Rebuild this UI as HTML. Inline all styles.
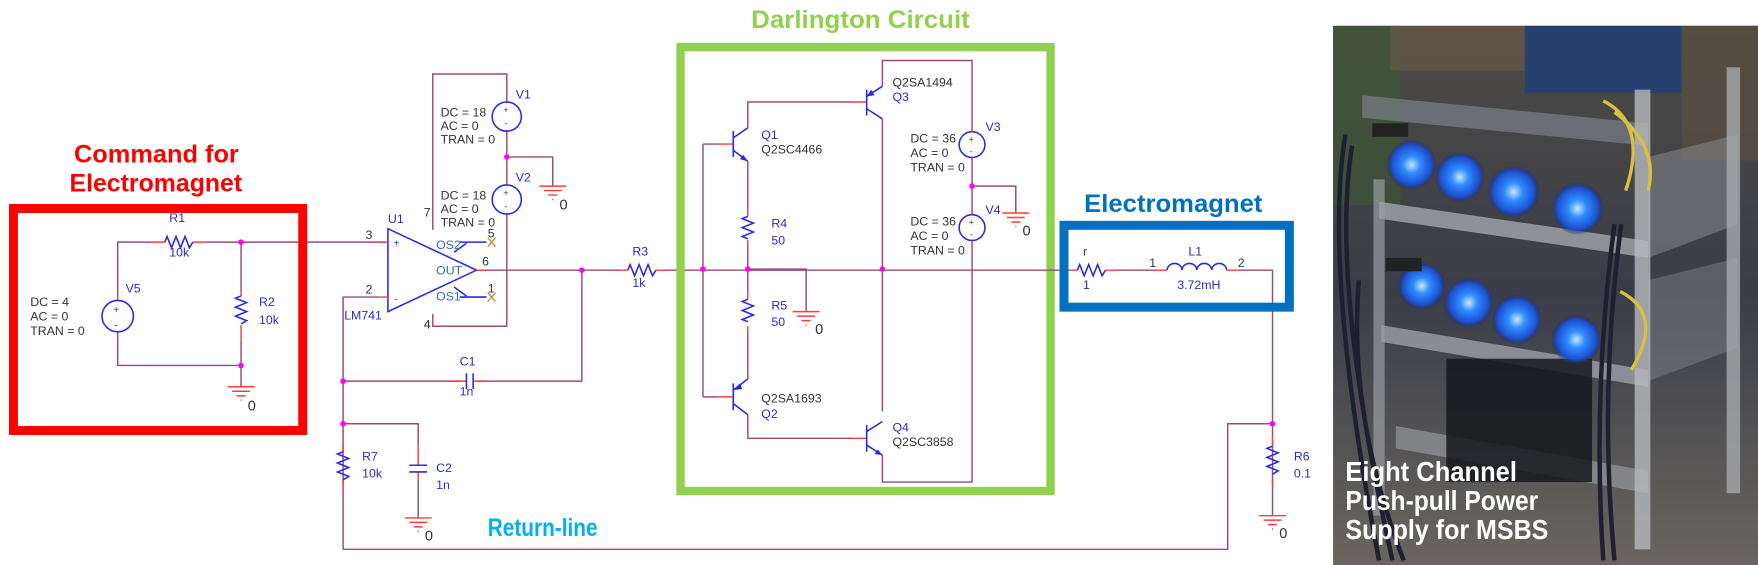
<!DOCTYPE html>
<html><head><meta charset="utf-8"><style>
html,body{margin:0;padding:0;background:#fff;width:1758px;height:565px;overflow:hidden}
svg{display:block}
.w{stroke:#9c4a78;stroke-width:1.3;fill:none}
.r{stroke:#ff3b3b;stroke-width:1.3;fill:none}
.b{stroke:#2a2ae6;stroke-width:1.4;fill:none}
.n{fill:#ff00ff}
text{font-family:"Liberation Sans",sans-serif}
.t{font-size:11px;fill:#333}
.tb{font-size:11px;fill:#2a2acc}
.h{font-weight:bold}
</style></head><body>
<svg width="1758" height="565" viewBox="0 0 1568 504" preserveAspectRatio="none" xmlns="http://www.w3.org/2000/svg">
<defs>
<radialGradient id="fan" cx="50%" cy="50%" r="50%">
<stop offset="0" stop-color="#c8e8ff"/><stop offset="0.35" stop-color="#2f8cff"/><stop offset="0.8" stop-color="#1d4fd0"/><stop offset="1" stop-color="#1a2e70" stop-opacity="0.2"/>
</radialGradient>
<linearGradient id="bg" x1="0" y1="0" x2="0" y2="1">
<stop offset="0" stop-color="#4d4a45"/><stop offset="0.5" stop-color="#3a3d48"/><stop offset="1" stop-color="#6a655e"/>
</linearGradient>
</defs>

<!-- ===== Titles ===== -->
<text x="66" y="145" font-size="22" class="h" fill="#ff0000" textLength="147" lengthAdjust="spacingAndGlyphs">Command for</text>
<text x="62" y="171" font-size="22" class="h" fill="#ff0000" textLength="154" lengthAdjust="spacingAndGlyphs">Electromagnet</text>
<text x="670" y="25" font-size="22" class="h" fill="#92d050" textLength="195" lengthAdjust="spacingAndGlyphs">Darlington Circuit</text>
<text x="967" y="189" font-size="22" class="h" fill="#0070c0" textLength="159" lengthAdjust="spacingAndGlyphs">Electromagnet</text>
<text x="435" y="478" font-size="22" class="h" fill="#00b0f0" textLength="98" lengthAdjust="spacingAndGlyphs">Return-line</text>

<!-- ===== Left source block ===== -->
<path class="w" d="M105 264V216H135M184 216H343M215 216V260M215 304V326H105V300"/>
<path class="r" d="M135 216H147M172 216H184M215 260V264M215 290V304M105 264V268M105 296V300"/>
<path class="b" d="M147 216l2 -5l4 10l4 -10l4 10l4 -10l4 10l3 -5"/>
<path class="b" d="M215 264l-5 2l10 4l-10 4l10 4l-10 4l10 4l-5 3"/>
<circle class="b" cx="105" cy="282" r="14"/>
<text x="101" y="279" font-size="9" fill="#2a2acc">+</text><text x="102" y="293" font-size="9" fill="#2a2acc">-</text>
<circle class="n" cx="215" cy="216" r="2.5"/><circle class="n" cx="215" cy="326" r="2.5"/>
<path class="w" d="M215 326V345"/>
<path class="r" d="M203 345H227M207 349H223M211 353H219M214.5 357H215.5"/>
<text x="221" y="366" font-size="13" fill="#333">0</text>
<text x="151" y="198" class="tb">R1</text><text x="151" y="229" class="tb">10k</text>
<text x="112" y="261" class="tb">V5</text>
<text x="27" y="273" class="t">DC = 4</text><text x="27" y="286" class="t">AC = 0</text><text x="27" y="299" class="t">TRAN = 0</text>
<text x="231" y="273" class="tb">R2</text><text x="231" y="289" class="tb">10k</text>
<rect x="12" y="186" width="258" height="198" fill="none" stroke="#ff0000" stroke-width="8"/>

<!-- ===== Op-amp ===== -->
<polygon class="b" points="346,204 346,278 425,241"/>
<text x="351" y="220" font-size="9" fill="#2a2acc">+</text><text x="352" y="270" font-size="9" fill="#2a2acc">-</text>
<path class="w" d="M306 490V265H338M386 205V66H452V92M452 116V166M452 140H493V166M452 190V291H386V280M425 241H519V340H427M411 340H305"/>
<path class="r" d="M338 216H346M338 265H346M425 241H432"/>
<circle class="b" cx="452" cy="104" r="13"/><circle class="b" cx="452" cy="178" r="13"/>
<text x="449" y="101" font-size="8" fill="#2a2acc">+</text><text x="450" y="113" font-size="8" fill="#2a2acc">-</text>
<text x="449" y="175" font-size="8" fill="#2a2acc">+</text><text x="450" y="187" font-size="8" fill="#2a2acc">-</text>
<circle class="n" cx="452" cy="140" r="2.5"/>
<path class="r" d="M481 166H505M485 170H501M489 174H497M492.5 178H493.5"/>
<text x="499" y="187" font-size="13" fill="#333">0</text>
<path class="b" d="M410 216H434M410 265H434M405 225L416 217M405 256L416 264"/>
<path stroke="#c9904e" stroke-width="1.3" d="M435 212l7 8M442 212l-7 8M435 261l7 8M442 261l-7 8"/>
<text x="346" y="199" class="tb">U1</text><text x="307" y="285" class="tb">LM741</text>
<text x="326" y="213" class="t">3</text><text x="326" y="262" class="t">2</text>
<text x="389" y="222" font-size="11" fill="#3a6ab0">OS2</text>
<text x="389" y="245" font-size="11" fill="#3a6ab0">OUT</text>
<text x="389" y="268" font-size="11" fill="#3a6ab0">OS1</text>
<text x="430" y="237" class="t">6</text><text x="435" y="212" class="t">5</text><text x="435" y="261" class="t">1</text>
<text x="378" y="193" class="t">7</text><text x="378" y="293" class="t">4</text>
<text x="460" y="88" class="tb">V1</text><text x="460" y="162" class="tb">V2</text>
<text x="393" y="104" class="t">DC = 18</text><text x="393" y="116" class="t">AC = 0</text><text x="393" y="128" class="t">TRAN = 0</text>
<text x="393" y="178" class="t">DC = 18</text><text x="393" y="190" class="t">AC = 0</text><text x="393" y="202" class="t">TRAN = 0</text>
<circle class="n" cx="519" cy="241" r="2.5"/>

<!-- C1 -->
<path class="r" d="M405 340H416M422 340H433"/>
<path class="b" d="M416 333V347M422 333V347"/>
<text x="410" y="326" class="tb">C1</text><text x="410" y="353" class="tb">1n</text>
<circle class="n" cx="306" cy="340" r="2.5"/>
<!-- R7 / C2 -->
<path class="w" d="M306 378H373V398M373 428V462M306 490H1095V378H1135"/>
<path class="r" d="M306 395V403M306 428V434M373 398V415M373 421V428"/>
<path class="b" d="M306 403l-5 2l10 4l-10 4l10 4l-10 4l10 4l-5 3M365 415H381M365 421H381"/>
<circle class="n" cx="306" cy="378" r="2.5"/>
<path class="r" d="M361 462H385M365 466H381M369 470H377M372.5 474H373.5"/>
<text x="379" y="482" font-size="13" fill="#333">0</text>
<text x="323" y="411" class="tb">R7</text><text x="323" y="426" class="tb">10k</text>
<text x="389" y="421" class="tb">C2</text><text x="389" y="436" class="tb">1n</text>

<!-- R3 -->
<path class="w" d="M519 241H553M590 241H787"/>
<path class="r" d="M553 241H560M585 241H594"/>
<path class="b" d="M560 241l2 -5l4 10l4 -10l4 10l4 -10l4 10l3 -5"/>
<text x="564" y="228" class="tb">R3</text><text x="564" y="256" class="tb">1k</text>

<!-- ===== Darlington ===== -->
<path class="w" d="M627 128.5V354M627 128.5H640M627 354H640M667 114V91H760M667 144V188M667 219V262M667 296V338M667 370V391H760M667 240H719V278M787 77V54H867V118M787 106V367M787 406V430H867V215M867 140V192M867 166H906V190"/>
<path class="r" d="M640 128.5H654M640 354H654M760 91H773M760 391H773M667 188V193M667 214V219M667 262V267M667 291V296"/>
<path class="b" d="M654 117V140M654 123L667 114M654 134L667 144M654 342V366M654 348L667 338M654 360L667 370M773 80V103M773 86L787 77M773 97L787 106M773 379V403M773 385L787 376M773 397L787 406"/>
<path class="b" d="M667 193l-5 2l10 4l-10 4l10 4l-10 4l5 2M667 267l-5 2l10 4l-10 4l10 4l-10 4l5 2"/>
<path fill="#2a2ae6" d="M667 144l-7 -2l3 -4zM654 348l6 -6l2 5zM773 86l4 -6l3 5zM787 406l-7 -1l3 -4z"/>
<circle class="n" cx="627" cy="240" r="2.5"/><circle class="n" cx="667" cy="240" r="2.5"/><circle class="n" cx="787" cy="240" r="2.5"/><circle class="n" cx="867" cy="166" r="2.5"/>
<path class="r" d="M707 278H731M711 282H727M715 286H723M718.5 290H719.5"/>
<text x="727" y="298" font-size="13" fill="#333">0</text>
<path class="r" d="M894 190H918M898 194H914M902 198H910M905.5 202H906.5"/>
<text x="912" y="210" font-size="13" fill="#333">0</text>
<circle class="b" cx="867" cy="129" r="11.5"/><circle class="b" cx="867" cy="203" r="11.5"/>
<text x="864" y="127" font-size="8" fill="#2a2acc">+</text><text x="865" y="138" font-size="8" fill="#2a2acc">-</text>
<text x="864" y="201" font-size="8" fill="#2a2acc">+</text><text x="865" y="212" font-size="8" fill="#2a2acc">-</text>
<path class="r" d="M867 115V117.5M867 140.5V143M867 189V191.5M867 214.5V217"/>
<text x="679" y="124" class="tb">Q1</text><text x="679" y="137" class="t">Q2SC4466</text>
<text x="796" y="77" class="t">Q2SA1494</text><text x="796" y="90" class="tb">Q3</text>
<text x="679" y="359" class="t">Q2SA1693</text><text x="679" y="373" class="tb">Q2</text>
<text x="796" y="385" class="tb">Q4</text><text x="796" y="398" class="t">Q2SC3858</text>
<text x="688" y="203" class="tb">R4</text><text x="688" y="218" class="tb">50</text>
<text x="688" y="276" class="tb">R5</text><text x="688" y="291" class="tb">50</text>
<text x="879" y="117" class="tb">V3</text><text x="879" y="191" class="tb">V4</text>
<text x="812" y="127" class="t">DC = 36</text><text x="812" y="140" class="t">AC = 0</text><text x="812" y="153" class="t">TRAN = 0</text>
<text x="812" y="201" class="t">DC = 36</text><text x="812" y="214" class="t">AC = 0</text><text x="812" y="227" class="t">TRAN = 0</text>
<rect x="607" y="42" width="330" height="396" fill="none" stroke="#92d050" stroke-width="7.5"/>

<!-- ===== Electromagnet ===== -->
<path class="w" d="M787 241H955M994 241H1032M1104 241H1135V460"/>
<path class="r" d="M955 241H961M986 241H994M1032 241H1041M1094 241H1104M1135 390V398M1135 428V434"/>
<path class="b" d="M961 241l2 -5l4 10l4 -10l4 10l4 -10l4 10l3 -5"/>
<path class="b" d="M1041 241a6.6 6 0 0 1 13.25 0a6.6 6 0 0 1 13.25 0a6.6 6 0 0 1 13.25 0a6.6 6 0 0 1 13.25 0"/>
<circle class="n" cx="1135" cy="378" r="2.5"/>
<path class="b" d="M1135 398l-5 2l10 4l-10 4l10 4l-10 4l10 4l-5 3"/>
<path class="r" d="M1123 460H1147M1127 464H1143M1131 468H1139M1134.5 472H1135.5"/>
<text x="1141" y="480" font-size="13" fill="#333">0</text>
<text x="1154" y="411" class="tb">R6</text><text x="1154" y="426" class="tb">0.1</text>
<text x="966" y="228" class="tb">r</text><text x="966" y="258" class="tb">1</text>
<text x="1025" y="238" class="t">1</text><text x="1104" y="238" class="t">2</text>
<text x="1060" y="228" class="tb">L1</text><text x="1050" y="258" class="tb">3.72mH</text>
<rect x="949" y="201" width="201" height="73" fill="none" stroke="#0070c0" stroke-width="8"/>

<!-- ===== Photo ===== -->
<rect x="1189" y="23" width="379" height="481" fill="url(#bg)"/>
<rect x="1189" y="23" width="60" height="160" fill="#3c5a34" opacity="0.6"/>
<rect x="1240" y="23" width="120" height="40" fill="#6b5a48" opacity="0.6"/>
<rect x="1360" y="23" width="140" height="60" fill="#1e3e7a" opacity="0.8"/>
<rect x="1500" y="23" width="68" height="120" fill="#5a4e40" opacity="0.7"/>
<polygon points="1215,85 1470,110 1470,130 1215,105" fill="#7a8088" opacity="0.7"/>
<polygon points="1230,180 1470,215 1470,230 1230,195" fill="#b0b4ba" opacity="0.7"/>
<polygon points="1232,290 1470,330 1470,345 1232,305" fill="#a8acb2" opacity="0.7"/>
<polygon points="1245,380 1470,420 1470,440 1245,400" fill="#a0a4aa" opacity="0.6"/>
<polygon points="1470,140 1550,120 1550,200 1470,230" fill="#8c9096" opacity="0.5"/>
<polygon points="1470,250 1550,230 1550,310 1470,340" fill="#8c9096" opacity="0.4"/>
<rect x="1458" y="80" width="14" height="410" fill="#b6b9bd" opacity="0.8"/>
<rect x="1540" y="60" width="12" height="380" fill="#a6a9ad" opacity="0.8"/>
<rect x="1225" y="160" width="10" height="300" fill="#999da2" opacity="0.7"/>
<rect x="1290" y="320" width="130" height="110" fill="#15171c" opacity="0.85"/>
<path d="M1430 90 q40 20 20 80 M1440 100 q40 30 30 70 M1445 260 q40 20 10 70" stroke="#d8c040" stroke-width="3" fill="none"/>
<path d="M1200 120 q-20 120 30 380 M1206 130 q-20 120 36 370 M1212 250 q-10 120 40 250 M1440 200 q-20 150 -10 300 M1446 200 q-20 150 -6 300" stroke="#1d2030" stroke-width="4" fill="none"/>
<g>
<circle cx="1259" cy="147" r="22" fill="url(#fan)"/><circle cx="1302" cy="158" r="22" fill="url(#fan)"/>
<circle cx="1350" cy="171" r="23" fill="url(#fan)"/><circle cx="1407" cy="186" r="23" fill="url(#fan)"/>
<circle cx="1268" cy="255" r="21" fill="url(#fan)"/><circle cx="1310" cy="270" r="22" fill="url(#fan)"/>
<circle cx="1353" cy="285" r="22" fill="url(#fan)"/><circle cx="1406" cy="303" r="22" fill="url(#fan)"/>
</g>
<rect x="1224" y="110" width="32" height="12" fill="#222"/><rect x="1236" y="230" width="32" height="12" fill="#222"/>
<text x="1200" y="429" font-size="25" class="h" fill="#fff" textLength="153" lengthAdjust="spacingAndGlyphs">Eight Channel</text>
<text x="1200" y="455" font-size="25" class="h" fill="#fff" textLength="172" lengthAdjust="spacingAndGlyphs">Push-pull Power</text>
<text x="1200" y="481" font-size="25" class="h" fill="#fff" textLength="181" lengthAdjust="spacingAndGlyphs">Supply for MSBS</text>
</svg>
</body></html>
